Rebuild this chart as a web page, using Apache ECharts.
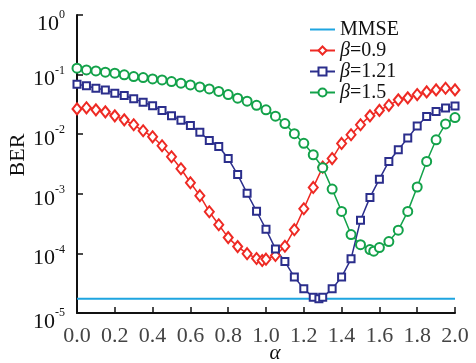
<!DOCTYPE html>
<html>
<head>
<meta charset="utf-8">
<script src="https://cdn.jsdelivr.net/npm/echarts@6/dist/echarts.min.js"></script>
<style>
  html, body { margin: 0; padding: 0; background: #fff; }
  #chart { width: 476px; height: 363px; }
</style>
</head>
<body>
<div id="chart"></div>
<script>
// values (log scale BER vs alpha)
const alphaMmse = [0, 2.0]
const berMmse = [1.73e-5, 1.73e-5]

const alphaRed = [0, 0.05, 0.1, 0.15, 0.2, 0.25, 0.3, 0.35, 0.4, 0.45, 0.5, 0.55, 0.6, 0.65, 0.7, 0.75,
  0.8, 0.85, 0.9, 0.95, 0.98, 1.0, 1.05, 1.1, 1.15, 1.2, 1.25, 1.3, 1.35, 1.4, 1.45, 1.5, 1.55,
  1.6, 1.65, 1.7, 1.75, 1.8, 1.85, 1.9, 1.95, 2.0]
const berRed = [0.0266, 0.0277, 0.0256, 0.0237, 0.0203, 0.0174, 0.0144, 0.0114, 0.00904, 0.0064,
  0.00418, 0.00263, 0.00153, 0.00093, 0.0005, 0.000303, 0.000184, 0.00013, 9.9e-5, 8.2e-5, 7.6e-5,
  8.0e-5, 9.2e-5, 1.32e-4, 2.5e-4, 5.6e-4, 1.28e-3, 2.8e-3, 3.9e-3, 7.0e-3, 9.8e-3, 0.0144, 0.0203,
  0.0251, 0.0305, 0.0377, 0.0407, 0.0462, 0.0513, 0.0554, 0.0591, 0.0554]

const alphaBlue = [0, 0.05, 0.1, 0.15, 0.2, 0.25, 0.3, 0.35, 0.4, 0.45, 0.5, 0.55, 0.6, 0.65, 0.7, 0.75,
  0.8, 0.85, 0.9, 0.95, 1.0, 1.05, 1.1, 1.15, 1.2, 1.25, 1.28, 1.3, 1.35, 1.4, 1.45, 1.5, 1.55,
  1.6, 1.65, 1.7, 1.75, 1.8, 1.85, 1.9, 1.95, 2.0]
const berBlue = [0.069, 0.0647, 0.0592, 0.0554, 0.0488, 0.0445, 0.0392, 0.0345, 0.0299, 0.025,
  0.0203, 0.0172, 0.014, 0.0108, 0.00784, 0.0062, 0.0039, 0.0021, 1.02e-3, 5.1e-4, 2.54e-4,
  1.19e-4, 7.3e-5, 4.0e-5, 2.55e-5, 1.83e-5, 1.74e-5, 1.83e-5, 2.55e-5, 4.0e-5, 8.1e-5, 3.6e-4,
  8.7e-4, 1.76e-3, 3.49e-3, 5.48e-3, 8.6e-3, 0.0137, 0.0198, 0.024, 0.0274, 0.0296]

const alphaGreen = [0, 0.05, 0.1, 0.15, 0.2, 0.25, 0.3, 0.35, 0.4, 0.45, 0.5, 0.55, 0.6, 0.65, 0.7, 0.75,
  0.8, 0.85, 0.9, 0.95, 1.0, 1.05, 1.1, 1.15, 1.2, 1.25, 1.3, 1.35, 1.4, 1.45, 1.5, 1.55, 1.57,
  1.6, 1.65, 1.7, 1.75, 1.8, 1.85, 1.9, 1.95, 2.0]
const berGreen = [0.128, 0.12, 0.115, 0.11, 0.1055, 0.099, 0.0925, 0.089, 0.0847, 0.0815, 0.0763,
  0.0718, 0.0672, 0.0622, 0.0576, 0.0523, 0.0462, 0.0402, 0.0358, 0.0305, 0.0256, 0.0201, 0.0151,
  0.0102, 0.00704, 0.00452, 0.00274, 0.0012, 5.07e-4, 2.07e-4, 1.4e-4, 1.16e-4, 1.09e-4, 1.25e-4,
  1.58e-4, 2.45e-4, 5.07e-4, 1.3e-3, 3.49e-3, 8.05e-3, 0.0149, 0.019]

const C = {
  mmse: '#1ea5e0',
  red: '#ee2a24',
  blue: '#2b2e8c',
  green: '#13a24a',
  axis: '#111',
}
const FONT = '"Liberation Serif", "DejaVu Serif", serif'

const pairs = (xs, ys) => xs.map((x, i) => [x, ys[i]])

function lineSeries(name, xs, ys, color, symbol, size) {
  return {
    name,
    type: 'line',
    data: pairs(xs, ys),
    symbol,
    symbolSize: size,
    showAllSymbol: true,
    lineStyle: { color, width: 1.5 },
    itemStyle: { color, borderColor: color, borderWidth: 1.5 },
    emphasis: { disabled: true },
  }
}

const chart = echarts.init(document.getElementById('chart'), null, { renderer: 'canvas' })

chart.setOption({
  animation: false,
  backgroundColor: '#fff',
  textStyle: { fontFamily: FONT },
  grid: { left: 77, right: 21, top: 15, bottom: 50, containLabel: false, outerBoundsMode: 'none' },
  legend: {
    orient: 'vertical',
    left: 304,
    top: 14,
    itemWidth: 25,
    itemHeight: 10,
    itemGap: 0,
    data: [
      { name: 'MMSE', itemStyle: { opacity: 0 } },
      'β=0.9',
      'β=1.21',
      'β=1.5',
    ],
    formatter: (n) => (n.startsWith('β') ? '{i|β}' + n.slice(1) : n),
    textStyle: {
      fontFamily: FONT,
      fontSize: 20,
      color: '#111',
      lineHeight: 21,
      rich: { i: { fontStyle: 'italic', fontFamily: FONT, fontSize: 20, lineHeight: 21, color: '#111' } },
    },
  },
  xAxis: {
    type: 'value',
    min: 0,
    max: 2,
    interval: 0.2,
    name: 'α',
    nameLocation: 'middle',
    nameMoveOverlap: false,
    nameGap: 30,
    nameTextStyle: { fontFamily: FONT, fontSize: 21, fontStyle: 'italic', color: '#111', padding: [0, 0, 0, 18] },
    axisLine: { lineStyle: { color: C.axis, width: 2 } },
    axisTick: { inside: true, length: 6, lineStyle: { color: C.axis, width: 1.5 } },
    axisLabel: {
      margin: 12,
      fontFamily: FONT,
      fontSize: 22,
      color: '#444',
      formatter: (v) => v.toFixed(1),
    },
    splitLine: { show: false },
  },
  yAxis: {
    type: 'log',
    logBase: 10,
    min: 1e-5,
    max: 1,
    name: 'BER',
    nameLocation: 'middle',
    nameMoveOverlap: false,
    nameGap: 48,
    nameTextStyle: { fontFamily: FONT, fontSize: 22, color: '#111', padding: [0, 0, 0, 18] },
    axisLine: { lineStyle: { color: C.axis, width: 2 } },
    axisTick: { inside: true, length: 6, lineStyle: { color: C.axis, width: 1.5 } },
    minorTick: { show: false },
    axisLabel: {
      margin: 12,
      color: '#111',
      formatter: (v) => {
        const e = Math.round(Math.log10(v))
        // end labels sit a little lower in the reference
        const gap = e === 0 || e === -5 ? '{g2| }' : '{g| }'
        return gap + '\n{b|10}{s|' + (e < 0 ? '-' + -e : e) + '}'
      },
      rich: {
        g: { fontSize: 1, lineHeight: 6 },
        g2: { fontSize: 1, lineHeight: 14 },
        b: { fontFamily: FONT, fontSize: 22, lineHeight: 26, verticalAlign: 'bottom', color: '#111' },
        s: { fontFamily: FONT, fontSize: 12, lineHeight: 26, verticalAlign: 'top', color: '#111' },
      },
    },
    splitLine: { show: false },
  },
  series: [
    {
      name: 'MMSE',
      type: 'line',
      data: pairs(alphaMmse, berMmse),
      symbol: 'none',
      lineStyle: { color: C.mmse, width: 2 },
      itemStyle: { color: C.mmse },
      emphasis: { disabled: true },
    },
    lineSeries('β=0.9', alphaRed, berRed, C.red, 'emptyDiamond', [9, 11]),
    lineSeries('β=1.21', alphaBlue, berBlue, C.blue, 'emptyRect', 7),
    lineSeries('β=1.5', alphaGreen, berGreen, C.green, 'emptyCircle', 9),
  ],
})
</script>
</body>
</html>
